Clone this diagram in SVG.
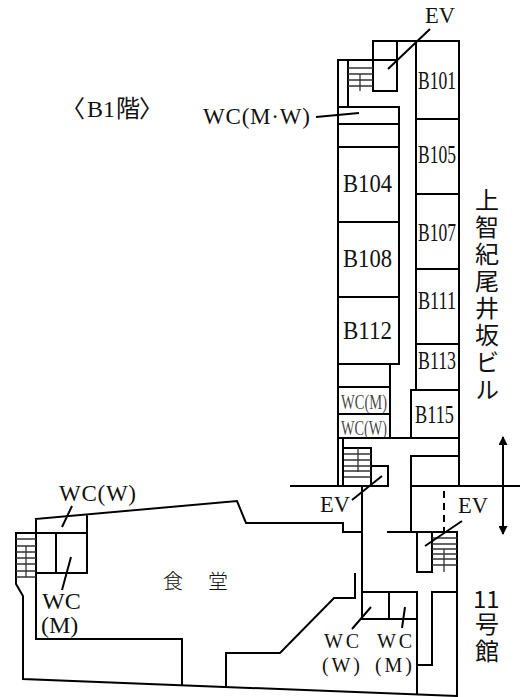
<svg xmlns="http://www.w3.org/2000/svg" width="523" height="697" viewBox="0 0 523 697">
<defs>
<style>
.w{fill:none;stroke:#000;stroke-width:2;stroke-linecap:square}
.l{fill:none;stroke:#000;stroke-width:2}
.s{fill:none;stroke:#333;stroke-width:1.3}
text{font-family:"Liberation Serif","Noto Sans CJK JP",serif;fill:#111}
.g{font-family:"Noto Sans CJK JP","Noto Sans",sans-serif;font-size:24px}
.v{writing-mode:vertical-rl;letter-spacing:3px}
.m{font-family:"Noto Sans CJK JP",serif;font-size:20px;font-weight:300;text-anchor:middle}
</style>
<marker id="h" markerWidth="10" markerHeight="9" refX="8" refY="4.5" orient="auto-start-reverse" markerUnits="userSpaceOnUse"><path d="M0 0L9 4.5L0 9Z" fill="#000"/></marker>
</defs>
<rect width="523" height="697" fill="#fff"/>
<g id="walls">
<path class="w" d="M373 41H459V486M373 41V91H397V41M338 60H373M348 60V107M338 60V486M416 41V390M416 119H459M416 194H459M416 269H459M416 344H459M411 390H459M411 390V438"/>
<path class="w" d="M338 107H399V364H338M338 124H399M338 147H399M338 222H399M338 297H399M390 364V438M338 387H390M338 414H390M338 438H459M343 438V486M373 60H397"/>
<path class="w" d="M291 486H388V466H371M344 448H371V486M362 486V618M411 456H459M411 456V532M411 486H519M388 532H457M417 532V572H432V532M457 532V696"/>
<path class="w" d="M36 519L237 501L246 523H343V532H361M36 519V639H182V684M23 679L457 696M23 679V596L16 584V533H36M36 533H87M87 516V573H36M56 533V573"/>
<path class="w" d="M355 574V598H334L280 653H226V686M362 592H417M389 592V619M362 619H417M417 592V693M417 665H432V592H457"/>
</g>
<g id="stairs">
<path class="s" d="M348 68H373M348 74H373M348 80H373M348 86H373M360 74V91"/>
<path class="s" d="M344 454H371M344 460H371M344 466H371M344 471H371M344 477H371M358 448V472"/>
<path class="s" d="M432 538H457M432 544H457M432 549H457M432 554H457M432 559H457M432 565H457M444 549V572"/>
<path class="s" d="M16 539H36M16 546H36M16 552H36M16 558H36M16 564H36M16 571H36M16 577H36M26 546V577"/>
</g>
<g id="connectors">
<path class="l" d="M430 29L388 69M316 117L359 113M382 476L352 500M462 521L425 546M72 506L62 527M71 557L62 590M371 607L352 629M405 607L402 628"/>
<path class="l" d="M444 491V532" stroke-dasharray="7 5"/>
<path class="l" d="M503 437V534" marker-start="url(#h)" marker-end="url(#h)"/>
</g>
<g id="rooms-left" font-size="25">
<text x="343" y="192" textLength="49" lengthAdjust="spacingAndGlyphs">B104</text>
<text x="343" y="267" textLength="49" lengthAdjust="spacingAndGlyphs">B108</text>
<text x="343" y="339" textLength="49" lengthAdjust="spacingAndGlyphs">B112</text>
</g>
<g id="rooms-right" font-size="25">
<text x="418" y="89" textLength="38" lengthAdjust="spacingAndGlyphs">B101</text>
<text x="418" y="163" textLength="38" lengthAdjust="spacingAndGlyphs">B105</text>
<text x="418" y="241" textLength="38" lengthAdjust="spacingAndGlyphs">B107</text>
<text x="418" y="309" textLength="38" lengthAdjust="spacingAndGlyphs">B111</text>
<text x="418" y="369" textLength="38" lengthAdjust="spacingAndGlyphs">B113</text>
<text x="415" y="423" textLength="39" lengthAdjust="spacingAndGlyphs">B115</text>
</g>
<g id="wc-cells" font-size="21" fill-opacity=".8">
<text x="341" y="409" textLength="46" lengthAdjust="spacingAndGlyphs">WC(M)</text>
<text x="341" y="435" textLength="46" lengthAdjust="spacingAndGlyphs">WC(W)</text>
</g>
<g id="labels" font-size="24">
<text x="425" y="23" textLength="30" lengthAdjust="spacingAndGlyphs">EV</text>
<text x="320" y="512" textLength="30" lengthAdjust="spacingAndGlyphs">EV</text>
<text x="458" y="513" textLength="30" lengthAdjust="spacingAndGlyphs">EV</text>
<text x="61 87 103 116 139" y="117">〈B1階〉</text>
<text x="203" y="124" font-size="23" textLength="107">WC(M·W)</text>
<text x="59" y="501" font-size="23" textLength="77">WC(W)</text>
<text x="42" y="609">WC<tspan x="41" y="633">(M)</tspan></text>
<text x="324" y="648" font-size="20" textLength="35">WC</text>
<text x="322" y="672" font-size="20" textLength="38">(W)</text>
<text x="377" y="648" font-size="20" textLength="35">WC</text>
<text x="375" y="672" font-size="20" textLength="37">(M)</text>
<text class="m" x="173 218" y="589">食堂</text>
</g>
<g id="building-names">
<text class="g v" x="487" y="188">上智紀尾井坂ビル</text>
<text class="g" x="473" y="608">11</text>
<text class="g v" x="487" y="612">号館</text>
</g>
</svg>
